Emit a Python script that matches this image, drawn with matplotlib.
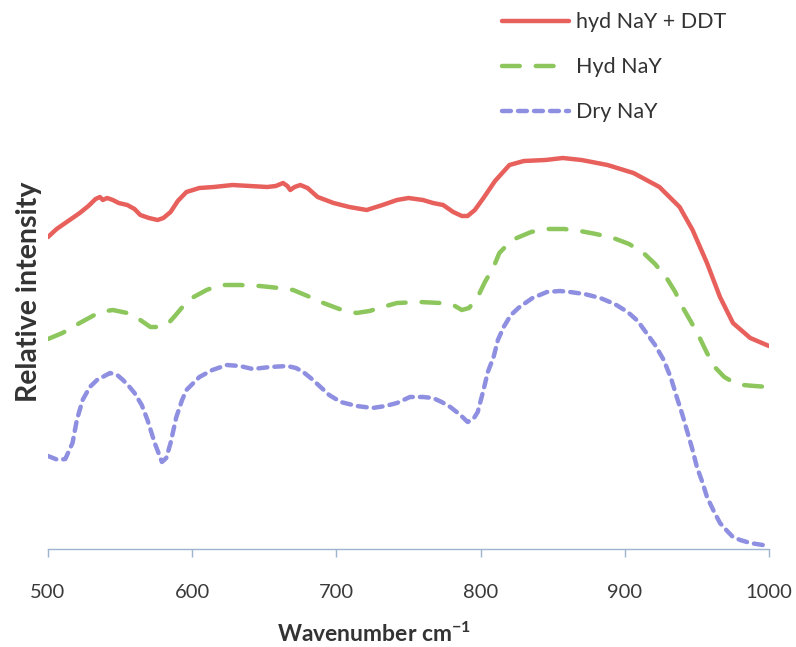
import matplotlib
matplotlib.use("Agg")
import matplotlib.pyplot as plt

plt.rcParams['font.family'] = ['Lato', 'DejaVu Sans']
plt.rcParams['mathtext.default'] = 'regular'

# hyd NaY + DDT
ddt_x = [500, 506, 515, 522, 528, 533, 536, 538, 541, 545, 549, 555, 560, 564, 570,
         576, 580, 585, 590, 596, 605, 615, 628, 640, 652, 658, 663, 666, 668, 671,
         675, 680, 687, 698, 709, 721, 732, 742, 750, 760, 767, 774, 781, 787, 791,
         796, 802, 810, 820, 830, 845, 857, 870, 888, 906, 924, 938, 947, 957, 966,
         975, 987, 1000]
ddt_y = [312, 320, 329, 336, 343, 350, 352, 349, 351, 349, 346, 344, 340, 334, 331,
         329, 331, 337, 348, 357, 361, 362, 364, 363, 362, 363, 366, 363, 359, 362,
         364, 361, 352, 346, 342, 339, 344, 349, 351, 349, 346, 344, 337, 333, 333,
         339, 351, 368, 384, 388, 389, 391, 389, 384, 376, 362, 342, 319, 286, 252,
         226, 211, 203]

# Hyd NaY
hyd_x = [500, 510, 522, 536, 545, 555, 564, 571, 577, 583, 588, 595, 601, 610, 619,
         633, 647, 660, 670, 680, 691, 702, 714, 723, 732, 742, 758, 772, 781, 787,
         792, 798, 803, 809, 813, 819, 825, 835, 846, 858, 869, 880, 892, 903, 913,
         921, 929, 935, 940, 946, 952, 957, 963, 969, 975, 982, 990, 1000]
hyd_y = [210, 216, 226, 237, 239, 236, 229, 222, 222, 225, 233, 245, 252, 259, 264,
         264, 263, 261, 259, 253, 246, 240, 236, 238, 242, 246, 247, 246, 244, 239,
         241, 252, 267, 282, 296, 305, 311, 317, 320, 320, 318, 315, 311, 305, 296,
         285, 271, 257, 242, 227, 211, 196, 181, 172, 167, 164, 163, 162]

# Dry NaY
dry_x = [500, 507, 512, 517, 520, 524, 529, 534, 543, 548, 552, 556, 560, 565, 569,
         574, 579, 582, 585, 589, 593, 596, 605, 614, 624, 633, 642, 654, 666, 672,
         677, 683, 689, 695, 703, 714, 725, 734, 742, 751, 760, 767, 773, 779, 786,
         791, 795, 798, 802, 805, 809, 812, 816, 821, 827, 836, 846, 855, 862, 872,
         883, 893, 902, 909, 915, 921, 927, 932, 936, 940, 943, 947, 950, 954, 957,
         962, 966, 971, 975, 980, 987, 1000]
dry_y = [93, 89, 90, 106, 129, 149, 162, 169, 176, 174, 169, 163, 156, 144, 129,
         106, 87, 91, 106, 132, 149, 159, 172, 179, 184, 183, 180, 182, 183, 181,
         177, 170, 162, 154, 147, 143, 141, 143, 146, 152, 152, 151, 147, 142, 134,
         127, 130, 137, 159, 177, 192, 209, 222, 234, 242, 251, 257, 258, 257, 255,
         251, 245, 237, 228, 216, 204, 189, 171, 152, 134, 119, 99, 82, 66, 52,
         37, 26, 18, 12, 9, 6, 3]

xticks = [500, 600, 700, 800, 900, 1000]

fig = plt.figure(figsize=(7.96, 6.47), dpi=100)
ax = fig.add_axes([48 / 796, 98 / 647, 721 / 796, 539 / 647])

ax.plot(ddt_x, ddt_y, color='#e8605c', lw=3.2, solid_capstyle='round',
        label='hyd NaY + DDT')
ax.plot(hyd_x, hyd_y, color='#8cc65c', lw=3.2, dashes=(4.0, 3.6),
        dash_capstyle='round', label='Hyd NaY')
ax.plot(dry_x, dry_y, color='#8f8fe2', lw=3.2, dashes=(2.0, 1.6),
        dash_capstyle='round', label='Dry NaY')

ax.set_xlim(500, 1000)
ax.set_ylim(0, 539)
ax.set_xticks(xticks)
ax.set_yticks([])

for side in ('left', 'right', 'top'):
    ax.spines[side].set_visible(False)
ax.spines['bottom'].set_color('#9db3cf')
ax.spines['bottom'].set_linewidth(1.0)
ax.tick_params(axis='x', direction='out', length=6, width=1.0, color='#9db3cf',
               labelsize=14.5, labelcolor='#3a3a3a', pad=19)

ax.set_xlabel('Wavenumber cm$^{-1}$', fontsize=16.5, fontweight='bold', color='#333333')
ax.xaxis.set_label_coords((374 - 48) / 721, -0.135)
ax.set_ylabel('Relative intensity', fontsize=20.5, fontweight='bold', color='#333333')
ax.yaxis.set_label_coords(-0.008, 0.477)

ax.legend(loc='upper left', bbox_to_anchor=(0.615, 1.016), frameon=False,
          fontsize=15.5, handlelength=3.1, handletextpad=0.33, labelspacing=1.16,
          borderpad=0, labelcolor='#333333')

fig.savefig('out.png', dpi=100)
